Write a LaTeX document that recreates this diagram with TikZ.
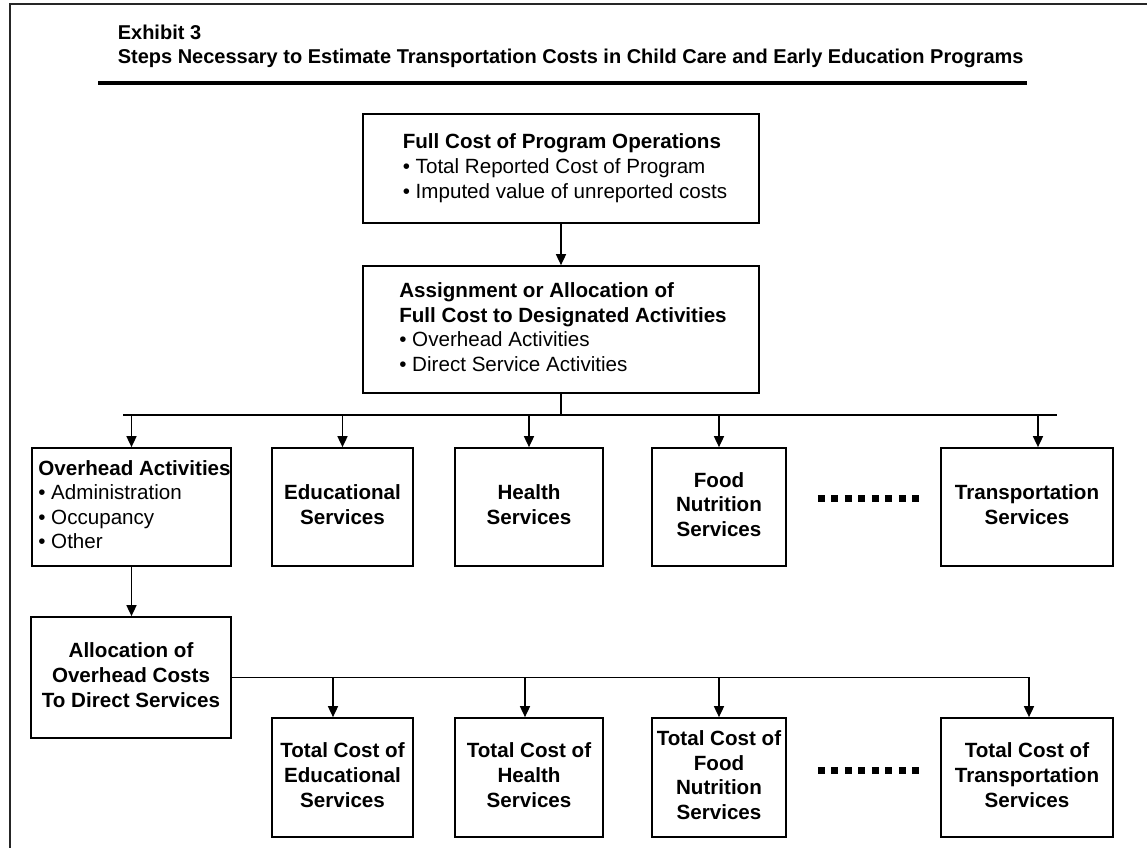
\documentclass[tikz,border=0pt]{standalone}
\usepackage{fontspec}
\setmainfont{Liberation Sans}
\usetikzlibrary{positioning,arrows.meta,calc}

% lines of a box, raised by #1, column type #2
\newcommand{\cellstack}[3]{\raisebox{#1}{\begin{tabular}{@{}#2@{}}#3\end{tabular}}}

\begin{document}
\begin{tikzpicture}[x=0.5pt,y=-0.5pt]

	\tikzstyle{stdbox}=[draw, rectangle, line width=0.85pt, inner sep=0pt, font=\fontsize{10.3}{12.3}\selectfont];
	\tikzstyle{svcbox}=[stdbox, font=\fontsize{10.3}{12.3}\selectfont\bfseries];
	\tikzstyle{titletext}=[anchor=base west, inner sep=0pt, font=\fontsize{10}{12}\selectfont\bfseries];
	\tikzstyle{dots}=[line width=3.5pt, dash pattern=on 3.5pt off 3.25pt];

	\useasboundingbox (0,0) rectangle (1147,848);
	\draw[line width=1pt, black!85] (1147,4) -- (10,4) -- (10,848);

	\begin{scope}[>={Triangle[length=5.5pt,width=5pt]}, line width=0.8pt]

		\node (exhibit) [titletext] at (117,39) {Exhibit 3};
		\node (heading) [titletext] at (117,63) {Steps Necessary to Estimate Transportation Costs in Child Care and Early Education Programs};
		\draw[line width=2pt] (98,83) -- (1027,83);

		\node (fullcost) [stdbox, minimum width=198pt, minimum height=54.5pt] at (561,168.5)
			{\hspace*{4pt}\cellstack{-1pt}{l}{\textbf{Full Cost of Program Operations}\\• Total Reported Cost of Program\\• Imputed value of unreported costs}};
		\node (assign) [stdbox, minimum width=198pt, minimum height=63.5pt] at (561,329.5)
			{\hspace*{2pt}\cellstack{-1pt}{l}{\textbf{Assignment or Allocation of}\\\textbf{Full Cost to Designated Activities}\\• Overhead Activities\\• Direct Service Activities}};

		% designated activities
		\node (overhead) [stdbox, minimum width=99.5pt, minimum height=59pt] at (131.5,507)
			{\hspace*{3pt}\cellstack{-3.4pt}{l}{\textbf{Overhead Activities}\\• Administration\\• Occupancy\\• Other}};
		\node (edu) [svcbox, minimum width=70.5pt, minimum height=59pt] at (342.5,507) {\cellstack{2.6pt}{c}{Educational\\Services}};
		\node (health) [svcbox, minimum width=74pt, minimum height=59pt] at (529,507) {\cellstack{2.6pt}{c}{Health\\Services}};
		\node (food) [svcbox, minimum width=67pt, minimum height=59pt] at (719,507) {\cellstack{2.6pt}{c}{Food\\Nutrition\\Services}};
		\node (trans) [svcbox, minimum width=86pt, minimum height=59pt] at (1027,507) {\cellstack{2.6pt}{c}{Transportation\\Services}};

		% overhead allocation and totals
		\node (alloc) [svcbox, minimum width=100pt, minimum height=60.5pt] at (131,677.5)
			{\cellstack{-3.1pt}{c}{Allocation of\\Overhead Costs\\To Direct Services}};
		\node (totedu) [svcbox, minimum width=70.5pt, minimum height=59.5pt] at (342.5,777.5) {\cellstack{-4.1pt}{c}{Total Cost of\\Educational\\Services}};
		\node (tothealth) [svcbox, minimum width=74pt, minimum height=59.5pt] at (529,777.5) {\cellstack{-4.1pt}{c}{Total Cost of\\Health\\Services}};
		\node (totfood) [svcbox, minimum width=67pt, minimum height=59.5pt] at (719,777.5) {\cellstack{-4.1pt}{c}{Total Cost of\\Food\\Nutrition\\Services}};
		\node (tottrans) [svcbox, minimum width=86pt, minimum height=59.5pt] at (1027,777.5) {\cellstack{-4.1pt}{c}{Total Cost of\\Transportation\\Services}};

		\draw[->] (fullcost.south) -- (fullcost.south |- assign.north);

		\coordinate (busL) at (123,415);
		\coordinate (busR) at (1057,415);
		\coordinate (transin) at ([xshift=5.5pt]trans.north);
		\draw (assign.south) -- (assign.south |- busL);
		\draw (busL) -- (busR);
		\foreach \target in {overhead, edu, health, food}
			\draw[->] (\target.north |- busL) -- (\target.north);
		\draw[->] (transin |- busL) -- (transin);

		\draw[->] (overhead.south) -- (overhead.south |- alloc.north);

		\coordinate (totin) at ([xshift=1pt]tottrans.north);
		\coordinate (eduin) at ([xshift=-4.75pt]totedu.north);
		\coordinate (healthin) at ([xshift=-2pt]tothealth.north);
		\draw[->] (alloc.east) -| (totin);
		\draw[->] (eduin |- alloc.east) -- (eduin);
		\draw[->] (healthin |- alloc.east) -- (healthin);
		\draw[->] (totfood.north |- alloc.east) -- (totfood.north);

		\draw[dots] ([xshift=15.5pt,yshift=4.5pt]food.east) -- ([xshift=-9.5pt,yshift=4.5pt]trans.west);
		\draw[dots] ([xshift=15.5pt,yshift=3.75pt]totfood.east) -- ([xshift=-9.5pt,yshift=3.75pt]tottrans.west);

	\end{scope}
\end{tikzpicture}
\end{document}
